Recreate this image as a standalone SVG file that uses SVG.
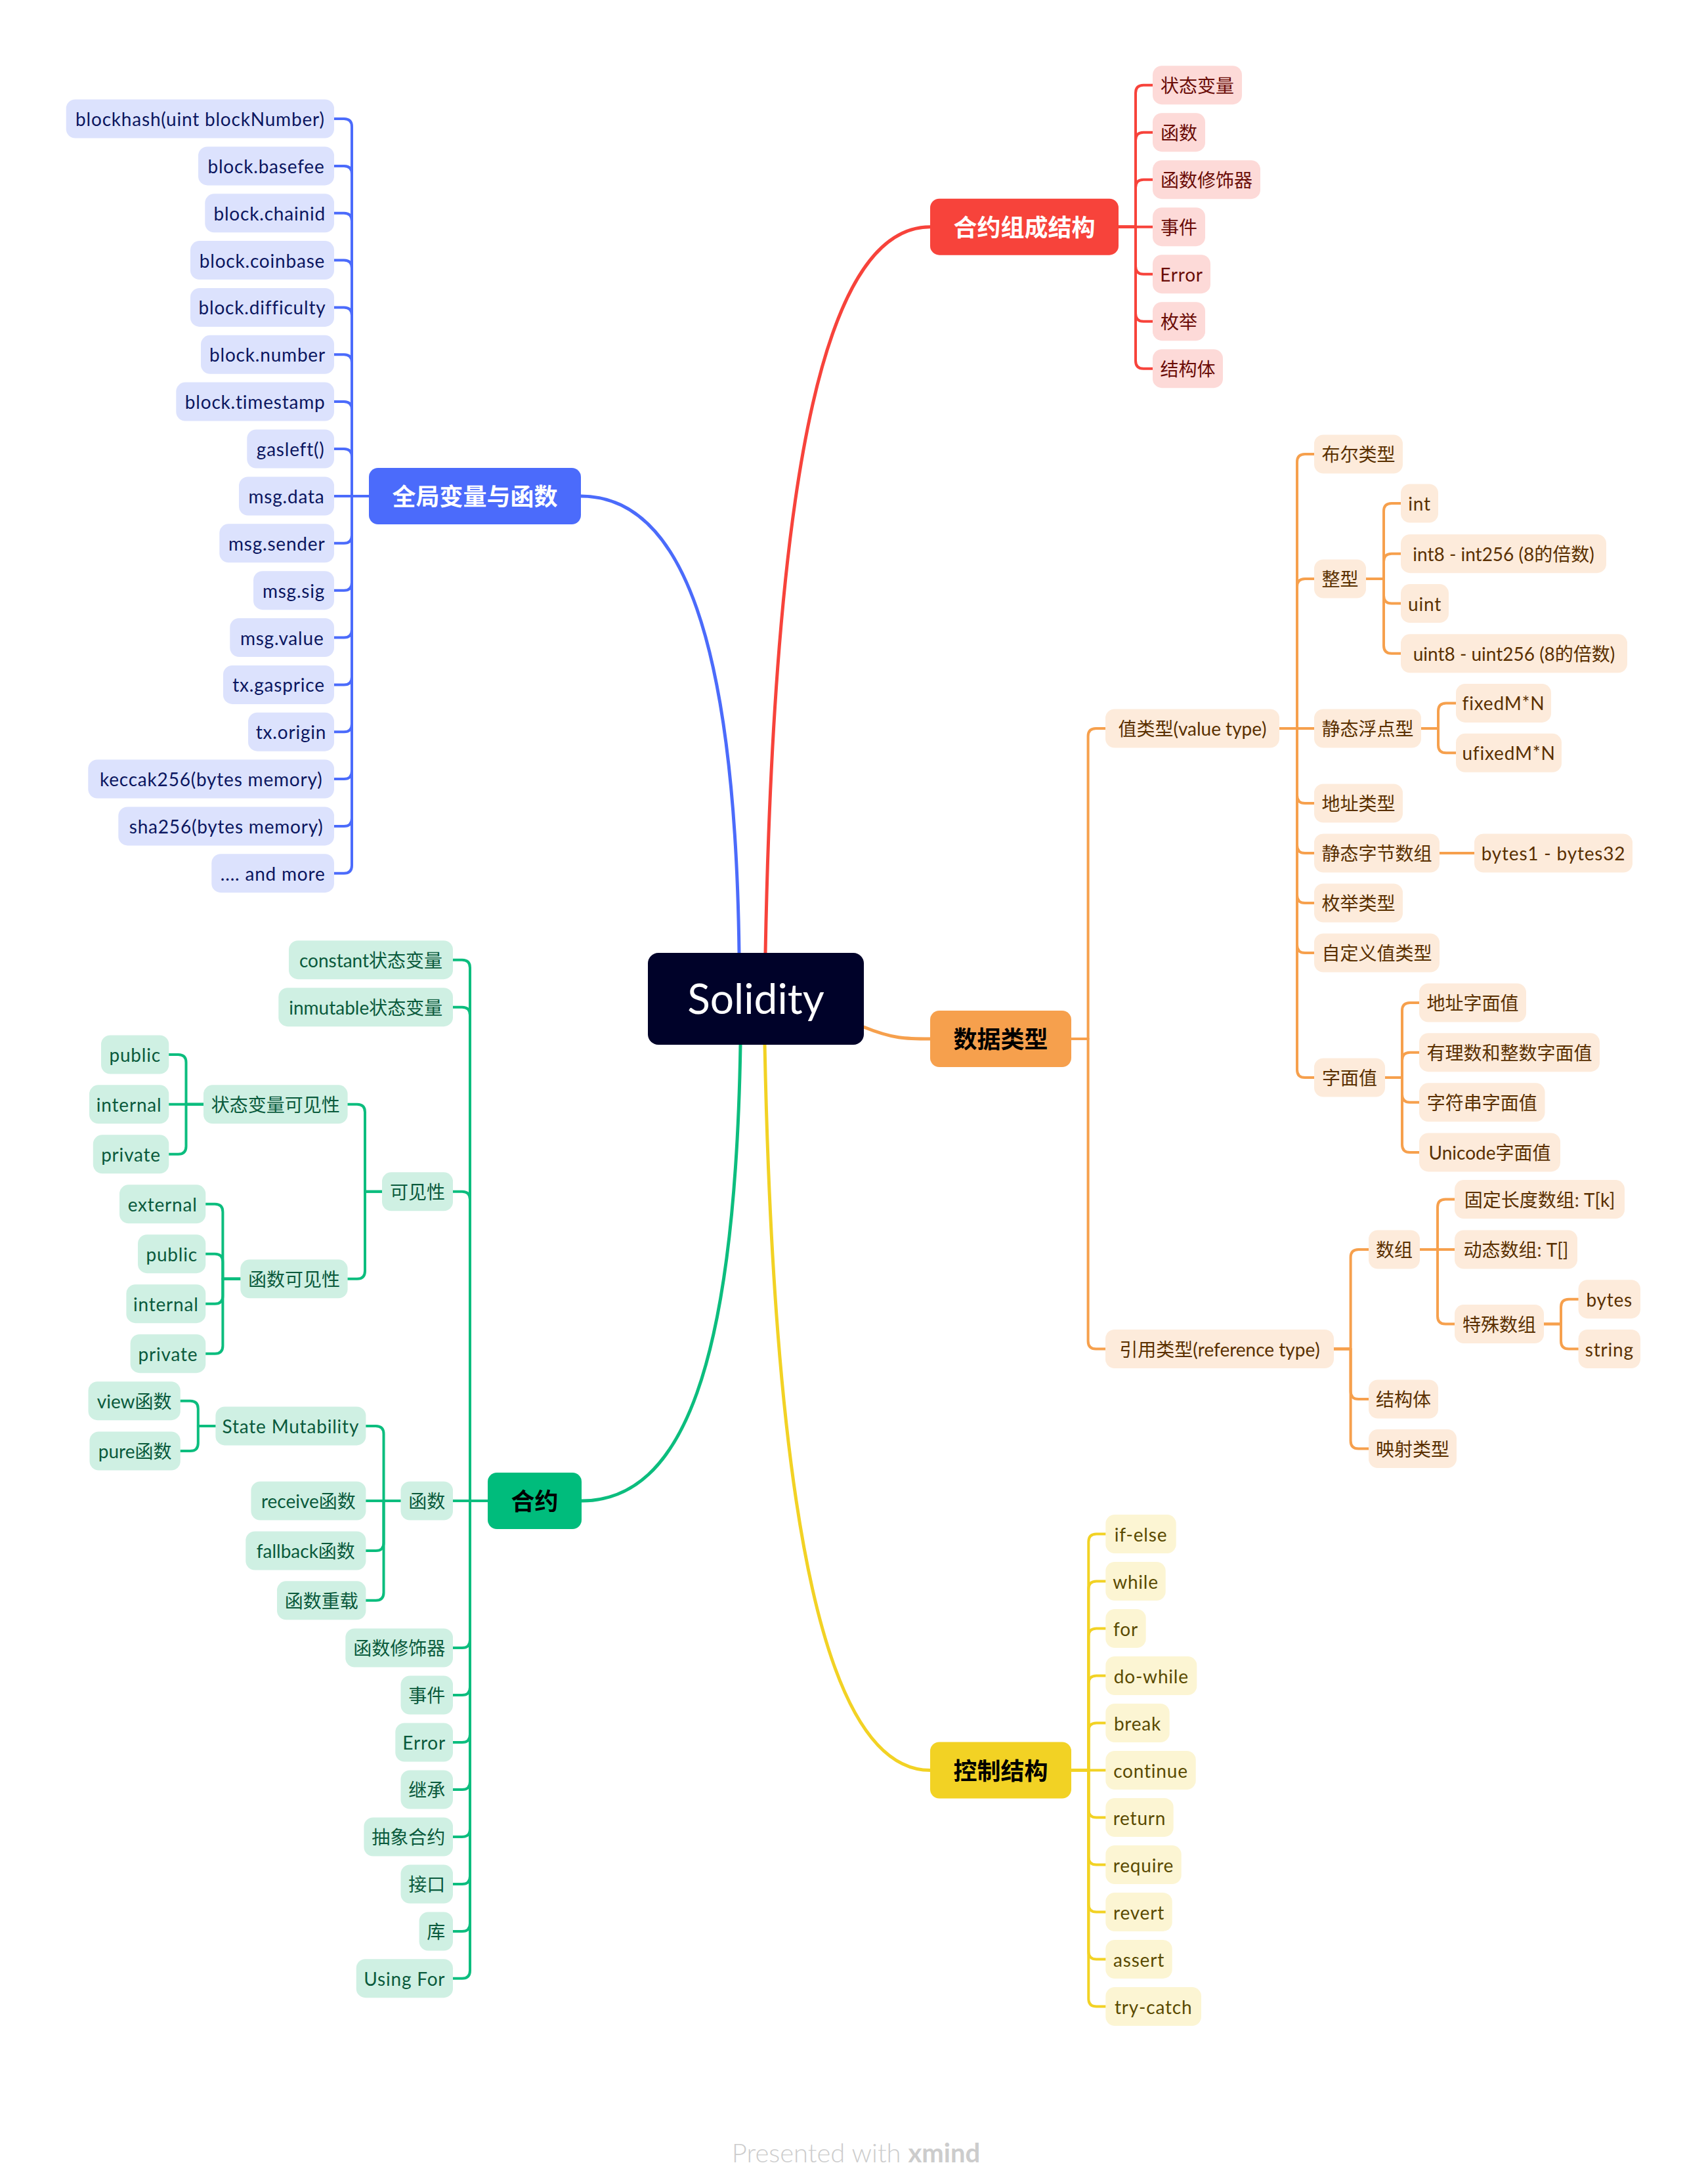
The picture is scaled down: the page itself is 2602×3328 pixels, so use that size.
<svg xmlns="http://www.w3.org/2000/svg" width="2602" height="3328" viewBox="0 0 2602 3328">
<style>
text{font-family:Lato,"Noto Sans CJK SC",sans-serif;font-size:28px;text-anchor:middle;dominant-baseline:central}
.c{fill:none;stroke-width:4;stroke-linecap:round;stroke-linejoin:round}
.m{stroke-width:5}
.cb{stroke:#4B6BFB}.cr{stroke:#F7433B}.co{stroke:#F6A04D}.cg{stroke:#0CBD7E}.cy{stroke:#F2D224}
.nb rect{fill:#DCE2FD}.nb text{fill:#0B1660;letter-spacing:0.8px}
.nr rect{fill:#FDDAD8}.nr text{fill:#6A0C07}
.no rect{fill:#FDEBDB}.no text{fill:#5A3000}
.ng rect{fill:#CFF0E3}.ng text{fill:#0A5A3C}
.ny rect{fill:#FCF5D3}.ny text{fill:#5A4A00;letter-spacing:0.8px}
.main text{font-size:36px;font-weight:bold}
text.l{letter-spacing:0.8px}
</style>
<rect width="2602" height="3328" fill="#ffffff"/>
<g id="connectors">
<path class="c m cb" d="M1126 1452C1120 980 1040 756 885 756"/>
<path class="c m cr" d="M1166 1452C1180 700 1260 345.7 1417 345.7"/>
<path class="c m cg" d="M1128 1592C1120 2080 1040 2287 886 2287"/>
<path class="c m cy" d="M1165 1592C1180 2330 1260 2697.5 1417 2697.5"/>
<path class="c m co" d="M1316 1565C1360 1583 1380 1583 1417 1583"/>
<g class="c cb">
<path d="M562 756H536V193Q536 181 524 181H509"/>
<path d="M562 756H536V264.9Q536 252.9 524 252.9H509"/>
<path d="M562 756H536V336.8Q536 324.8 524 324.8H509"/>
<path d="M562 756H536V408.6Q536 396.6 524 396.6H509"/>
<path d="M562 756H536V480.4Q536 468.4 524 468.4H509"/>
<path d="M562 756H536V552.3Q536 540.3 524 540.3H509"/>
<path d="M562 756H536V624.1Q536 612.1 524 612.1H509"/>
<path d="M562 756H536V696Q536 684 524 684H509"/>
<path d="M562 756H509"/>
<path d="M562 756H536V815.8Q536 827.8 524 827.8H509"/>
<path d="M562 756H536V887.7Q536 899.7 524 899.7H509"/>
<path d="M562 756H536V959.5Q536 971.5 524 971.5H509"/>
<path d="M562 756H536V1031.4Q536 1043.4 524 1043.4H509"/>
<path d="M562 756H536V1103.2Q536 1115.2 524 1115.2H509"/>
<path d="M562 756H536V1175Q536 1187 524 1187H509"/>
<path d="M562 756H536V1246.9Q536 1258.9 524 1258.9H509"/>
<path d="M562 756H536V1318.7Q536 1330.7 524 1330.7H509"/>
</g>
<g class="c cr">
<path d="M1704 345.7H1730V141.7Q1730 129.7 1742 129.7H1756"/>
<path d="M1704 345.7H1730V213.7Q1730 201.7 1742 201.7H1756"/>
<path d="M1704 345.7H1730V285.7Q1730 273.7 1742 273.7H1756"/>
<path d="M1704 345.7H1756"/>
<path d="M1704 345.7H1730V405.7Q1730 417.7 1742 417.7H1756"/>
<path d="M1704 345.7H1730V477.7Q1730 489.7 1742 489.7H1756"/>
<path d="M1704 345.7H1730V549.7Q1730 561.7 1742 561.7H1756"/>
</g>
<g class="c co">
<path d="M1632 1583H1657.6V1122Q1657.6 1110 1669.6 1110H1684"/>
<path d="M1632 1583H1657.6V2043.5Q1657.6 2055.5 1669.6 2055.5H1684"/>
<path d="M1949 1110H1976V704Q1976 692 1988 692H2002"/>
<path d="M1949 1110H1976V894Q1976 882 1988 882H2002"/>
<path d="M1949 1110H2002"/>
<path d="M1949 1110H1976V1212Q1976 1224 1988 1224H2002"/>
<path d="M1949 1110H1976V1288Q1976 1300 1988 1300H2002"/>
<path d="M1949 1110H1976V1364Q1976 1376 1988 1376H2002"/>
<path d="M1949 1110H1976V1440Q1976 1452 1988 1452H2002"/>
<path d="M1949 1110H1976V1630Q1976 1642 1988 1642H2002"/>
<path d="M2081 882H2108V779Q2108 767 2120 767H2134"/>
<path d="M2081 882H2108V855.7Q2108 843.7 2120 843.7H2134"/>
<path d="M2081 882H2108V907.6Q2108 919.6 2120 919.6H2134"/>
<path d="M2081 882H2108V983.8Q2108 995.8 2120 995.8H2134"/>
<path d="M2165 1110H2191V1083.4Q2191 1071.4 2203 1071.4H2218"/>
<path d="M2165 1110H2191V1135.3Q2191 1147.3 2203 1147.3H2218"/>
<path d="M2193 1300H2246"/>
<path d="M2110 1642H2136V1540Q2136 1528 2148 1528H2162"/>
<path d="M2110 1642H2136V1615.7Q2136 1603.7 2148 1603.7H2162"/>
<path d="M2110 1642H2136V1667.8Q2136 1679.8 2148 1679.8H2162"/>
<path d="M2110 1642H2136V1743.9Q2136 1755.9 2148 1755.9H2162"/>
<path d="M2032 2055.5H2057.6V1916Q2057.6 1904 2069.6 1904H2085"/>
<path d="M2032 2055.5H2057.6V2120Q2057.6 2132 2069.6 2132H2085"/>
<path d="M2032 2055.5H2057.6V2195.6Q2057.6 2207.6 2069.6 2207.6H2085"/>
<path d="M2163 1904H2190V1839.6Q2190 1827.6 2202 1827.6H2216"/>
<path d="M2163 1904H2216"/>
<path d="M2163 1904H2190V2005.6Q2190 2017.6 2202 2017.6H2216"/>
<path d="M2352 2017.6H2378V1991.7Q2378 1979.7 2390 1979.7H2404.5"/>
<path d="M2352 2017.6H2378V2043.5Q2378 2055.5 2390 2055.5H2404.5"/>
</g>
<g class="c cg">
<path d="M743 2287H716V1474.7Q716 1462.7 704 1462.7H690"/>
<path d="M743 2287H716V1546.7Q716 1534.7 704 1534.7H690"/>
<path d="M743 2287H716V1827.8Q716 1815.8 704 1815.8H690"/>
<path d="M743 2287H690"/>
<path d="M743 2287H716V2499Q716 2511 704 2511H690"/>
<path d="M743 2287H716V2571Q716 2583 704 2583H690"/>
<path d="M743 2287H716V2643Q716 2655 704 2655H690"/>
<path d="M743 2287H716V2715Q716 2727 704 2727H690"/>
<path d="M743 2287H716V2787Q716 2799 704 2799H690"/>
<path d="M743 2287H716V2859Q716 2871 704 2871H690"/>
<path d="M743 2287H716V2931Q716 2943 704 2943H690"/>
<path d="M743 2287H716V3002.7Q716 3014.7 704 3014.7H690"/>
<path d="M582 1815.8H556V1694.8Q556 1682.8 544 1682.8H529.6"/>
<path d="M582 1815.8H556V1936.8Q556 1948.8 544 1948.8H529.6"/>
<path d="M310 1682.8H283.5V1619Q283.5 1607 271.5 1607H257.3"/>
<path d="M310 1682.8H257.3"/>
<path d="M310 1682.8H283.5V1746.8Q283.5 1758.8 271.5 1758.8H257.3"/>
<path d="M366.3 1948.8H339.4V1846.8Q339.4 1834.8 327.4 1834.8H313.3"/>
<path d="M366.3 1948.8H339.4V1922.7Q339.4 1910.7 327.4 1910.7H313.3"/>
<path d="M366.3 1948.8H339.4V1974.7Q339.4 1986.7 327.4 1986.7H313.3"/>
<path d="M366.3 1948.8H339.4V2050.7Q339.4 2062.7 327.4 2062.7H313.3"/>
<path d="M610.5 2287H584.5V2184.9Q584.5 2172.9 572.5 2172.9H557.4"/>
<path d="M610.5 2287H557.4"/>
<path d="M610.5 2287H584.5V2351Q584.5 2363 572.5 2363H557.4"/>
<path d="M610.5 2287H584.5V2426.8Q584.5 2438.8 572.5 2438.8H557.4"/>
<path d="M328.4 2172.9H301.8V2146.7Q301.8 2134.7 289.8 2134.7H274.8"/>
<path d="M328.4 2172.9H301.8V2199Q301.8 2211 289.8 2211H274.8"/>
</g>
<g class="c cy">
<path d="M1632 2697.5H1658.3V2349.5Q1658.3 2337.5 1670.3 2337.5H1684.3"/>
<path d="M1632 2697.5H1658.3V2421.5Q1658.3 2409.5 1670.3 2409.5H1684.3"/>
<path d="M1632 2697.5H1658.3V2493.5Q1658.3 2481.5 1670.3 2481.5H1684.3"/>
<path d="M1632 2697.5H1658.3V2565.5Q1658.3 2553.5 1670.3 2553.5H1684.3"/>
<path d="M1632 2697.5H1658.3V2637.5Q1658.3 2625.5 1670.3 2625.5H1684.3"/>
<path d="M1632 2697.5H1684.3"/>
<path d="M1632 2697.5H1658.3V2757.5Q1658.3 2769.5 1670.3 2769.5H1684.3"/>
<path d="M1632 2697.5H1658.3V2829.5Q1658.3 2841.5 1670.3 2841.5H1684.3"/>
<path d="M1632 2697.5H1658.3V2901.5Q1658.3 2913.5 1670.3 2913.5H1684.3"/>
<path d="M1632 2697.5H1658.3V2973.5Q1658.3 2985.5 1670.3 2985.5H1684.3"/>
<path d="M1632 2697.5H1658.3V3045.5Q1658.3 3057.5 1670.3 3057.5H1684.3"/>
</g>
</g>

<g id="root"><rect x="987" y="1452" width="329" height="140" rx="16" fill="#000229"/><text x="1151.5" y="1520" style="font-size:64px;fill:#ffffff">Solidity</text></g>

<g id="m-global" class="main"><rect x="562" y="713" width="323" height="86" rx="14" fill="#4B6BFB"/><text x="723.5" y="756" fill="#ffffff">全局变量与函数</text></g>
<g id="m-struct" class="main"><rect x="1417" y="302.7" width="287" height="86" rx="14" fill="#F7433B"/><text x="1560.5" y="345.7" fill="#ffffff">合约组成结构</text></g>
<g id="m-types" class="main"><rect x="1417" y="1540" width="215" height="86" rx="14" fill="#F6A04D"/><text x="1524.5" y="1583" fill="#000000">数据类型</text></g>
<g id="m-contract" class="main"><rect x="743" y="2244" width="143" height="86" rx="14" fill="#00BC7C"/><text x="814.5" y="2287" fill="#000000">合约</text></g>
<g id="m-control" class="main"><rect x="1417" y="2654.5" width="215" height="86" rx="14" fill="#F2D224"/><text x="1524.5" y="2697.5" fill="#000000">控制结构</text></g>

<g id="b0" class="nb"><rect x="100.7" y="151.5" width="408.3" height="59" rx="14"/><text x="304.9" y="181">blockhash(uint blockNumber)</text></g>
<g id="b1" class="nb"><rect x="302" y="223.4" width="207" height="59" rx="14"/><text x="405.5" y="252.9">block.basefee</text></g>
<g id="b2" class="nb"><rect x="312.3" y="295.3" width="196.7" height="59" rx="14"/><text x="410.7" y="324.8">block.chainid</text></g>
<g id="b3" class="nb"><rect x="290" y="367.1" width="219" height="59" rx="14"/><text x="399.5" y="396.6">block.coinbase</text></g>
<g id="b4" class="nb"><rect x="290" y="438.9" width="219" height="59" rx="14"/><text x="399.5" y="468.4">block.difficulty</text></g>
<g id="b5" class="nb"><rect x="306" y="510.8" width="203" height="59" rx="14"/><text x="407.5" y="540.3">block.number</text></g>
<g id="b6" class="nb"><rect x="268.3" y="582.6" width="240.7" height="59" rx="14"/><text x="388.7" y="612.1">block.timestamp</text></g>
<g id="b7" class="nb"><rect x="376.3" y="654.5" width="132.7" height="59" rx="14"/><text x="442.7" y="684">gasleft()</text></g>
<g id="b8" class="nb"><rect x="364" y="726.5" width="145" height="59" rx="14"/><text x="436.5" y="756">msg.data</text></g>
<g id="b9" class="nb"><rect x="334.3" y="798.3" width="174.7" height="59" rx="14"/><text x="421.7" y="827.8">msg.sender</text></g>
<g id="b10" class="nb"><rect x="386" y="870.2" width="123" height="59" rx="14"/><text x="447.5" y="899.7">msg.sig</text></g>
<g id="b11" class="nb"><rect x="350.3" y="942" width="158.7" height="59" rx="14"/><text x="429.7" y="971.5">msg.value</text></g>
<g id="b12" class="nb"><rect x="340" y="1013.9" width="169" height="59" rx="14"/><text x="424.5" y="1043.4">tx.gasprice</text></g>
<g id="b13" class="nb"><rect x="378" y="1085.7" width="131" height="59" rx="14"/><text x="443.5" y="1115.2">tx.origin</text></g>
<g id="b14" class="nb"><rect x="134.3" y="1157.5" width="374.7" height="59" rx="14"/><text x="321.7" y="1187">keccak256(bytes memory)</text></g>
<g id="b15" class="nb"><rect x="180.3" y="1229.4" width="328.7" height="59" rx="14"/><text x="344.7" y="1258.9">sha256(bytes memory)</text></g>
<g id="b16" class="nb"><rect x="322.3" y="1301.2" width="186.7" height="59" rx="14"/><text x="415.7" y="1330.7">.... and more</text></g>

<g id="r0" class="nr"><rect x="1756" y="100.2" width="136" height="59" rx="14"/><text x="1824" y="129.7">状态变量</text></g>
<g id="r1" class="nr"><rect x="1756" y="172.2" width="80" height="59" rx="14"/><text x="1796" y="201.7">函数</text></g>
<g id="r2" class="nr"><rect x="1756" y="244.2" width="164" height="59" rx="14"/><text x="1838" y="273.7">函数修饰器</text></g>
<g id="r3" class="nr"><rect x="1756" y="316.2" width="80" height="59" rx="14"/><text x="1796" y="345.7">事件</text></g>
<g id="r4" class="nr"><rect x="1756" y="388.2" width="88" height="59" rx="14"/><text class="l" x="1800" y="417.7">Error</text></g>
<g id="r5" class="nr"><rect x="1756" y="460.2" width="80" height="59" rx="14"/><text x="1796" y="489.7">枚举</text></g>
<g id="r6" class="nr"><rect x="1756" y="532.2" width="107" height="59" rx="14"/><text x="1809.5" y="561.7">结构体</text></g>

<g id="o-value" class="no"><rect x="1684" y="1080.5" width="265" height="59" rx="14"/><text x="1816.5" y="1110">值类型(value type)</text></g>
<g id="o-ref" class="no"><rect x="1684" y="2026" width="348" height="59" rx="14"/><text x="1858" y="2055.5">引用类型(reference type)</text></g>
<g id="o-bool" class="no"><rect x="2002" y="662.5" width="135" height="59" rx="14"/><text x="2069.5" y="692">布尔类型</text></g>
<g id="o-int" class="no"><rect x="2002" y="852.5" width="79" height="59" rx="14"/><text x="2041.5" y="882">整型</text></g>
<g id="o-int1" class="no"><rect x="2134" y="737.5" width="57" height="59" rx="14"/><text class="l" x="2162.5" y="767">int</text></g>
<g id="o-int2" class="no"><rect x="2134" y="814.2" width="313" height="59" rx="14"/><text x="2290.5" y="843.7">int8 - int256 (8的倍数)</text></g>
<g id="o-int3" class="no"><rect x="2134" y="890.1" width="73" height="59" rx="14"/><text class="l" x="2170.5" y="919.6">uint</text></g>
<g id="o-int4" class="no"><rect x="2134" y="966.3" width="345" height="59" rx="14"/><text x="2306.5" y="995.8">uint8 - uint256 (8的倍数)</text></g>
<g id="o-fixed" class="no"><rect x="2002" y="1080.5" width="163" height="59" rx="14"/><text x="2083.5" y="1110">静态浮点型</text></g>
<g id="o-fixed1" class="no"><rect x="2218" y="1041.9" width="145" height="59" rx="14"/><text class="l" x="2290.5" y="1071.4">fixedM*N</text></g>
<g id="o-fixed2" class="no"><rect x="2218" y="1117.8" width="161" height="59" rx="14"/><text class="l" x="2298.5" y="1147.3">ufixedM*N</text></g>
<g id="o-addr" class="no"><rect x="2002" y="1194.5" width="135" height="59" rx="14"/><text x="2069.5" y="1224">地址类型</text></g>
<g id="o-bytes" class="no"><rect x="2002" y="1270.5" width="191" height="59" rx="14"/><text x="2097.5" y="1300">静态字节数组</text></g>
<g id="o-bytes1" class="no"><rect x="2246" y="1270.5" width="241" height="59" rx="14"/><text class="l" x="2366.5" y="1300">bytes1 - bytes32</text></g>
<g id="o-enum" class="no"><rect x="2002" y="1346.5" width="135" height="59" rx="14"/><text x="2069.5" y="1376">枚举类型</text></g>
<g id="o-udvt" class="no"><rect x="2002" y="1422.5" width="191" height="59" rx="14"/><text x="2097.5" y="1452">自定义值类型</text></g>
<g id="o-lit" class="no"><rect x="2002" y="1612.5" width="108" height="59" rx="14"/><text x="2056" y="1642">字面值</text></g>
<g id="o-lit1" class="no"><rect x="2162" y="1498.5" width="163" height="59" rx="14"/><text x="2243.5" y="1528">地址字面值</text></g>
<g id="o-lit2" class="no"><rect x="2162" y="1574.2" width="275" height="59" rx="14"/><text x="2299.5" y="1603.7">有理数和整数字面值</text></g>
<g id="o-lit3" class="no"><rect x="2162" y="1650.3" width="191.5" height="59" rx="14"/><text x="2257.75" y="1679.8">字符串字面值</text></g>
<g id="o-lit4" class="no"><rect x="2162" y="1726.4" width="215" height="59" rx="14"/><text x="2269.5" y="1755.9">Unicode字面值</text></g>
<g id="o-arr" class="no"><rect x="2085" y="1874.5" width="78" height="59" rx="14"/><text x="2124" y="1904">数组</text></g>
<g id="o-arr1" class="no"><rect x="2216" y="1798.1" width="259" height="59" rx="14"/><text x="2345.5" y="1827.6">固定长度数组: T[k]</text></g>
<g id="o-arr2" class="no"><rect x="2216" y="1874.5" width="187" height="59" rx="14"/><text x="2309.5" y="1904">动态数组: T[]</text></g>
<g id="o-arr3" class="no"><rect x="2216" y="1988.1" width="136" height="59" rx="14"/><text x="2284" y="2017.6">特殊数组</text></g>
<g id="o-sp1" class="no"><rect x="2404.5" y="1950.2" width="94.5" height="59" rx="14"/><text class="l" x="2451.75" y="1979.7">bytes</text></g>
<g id="o-sp2" class="no"><rect x="2404.5" y="2026" width="94.5" height="59" rx="14"/><text class="l" x="2451.75" y="2055.5">string</text></g>
<g id="o-struct" class="no"><rect x="2085" y="2102.5" width="106" height="59" rx="14"/><text x="2138" y="2132">结构体</text></g>
<g id="o-map" class="no"><rect x="2085" y="2178.1" width="134" height="59" rx="14"/><text x="2152" y="2207.6">映射类型</text></g>

<g id="g-const" class="ng"><rect x="440" y="1433.2" width="250" height="59" rx="14"/><text x="565" y="1462.7">constant状态变量</text></g>
<g id="g-immut" class="ng"><rect x="424.3" y="1505.2" width="265.7" height="59" rx="14"/><text x="557.2" y="1534.7">inmutable状态变量</text></g>
<g id="g-vis" class="ng"><rect x="582" y="1786.3" width="108" height="59" rx="14"/><text x="636" y="1815.8">可见性</text></g>
<g id="g-svis" class="ng"><rect x="310" y="1653.3" width="219.6" height="59" rx="14"/><text x="419.8" y="1682.8">状态变量可见性</text></g>
<g id="g-sv1" class="ng"><rect x="154" y="1577.5" width="103.3" height="59" rx="14"/><text class="l" x="205.65" y="1607">public</text></g>
<g id="g-sv2" class="ng"><rect x="136" y="1653.3" width="121.3" height="59" rx="14"/><text class="l" x="196.65" y="1682.8">internal</text></g>
<g id="g-sv3" class="ng"><rect x="141.8" y="1729.3" width="115.5" height="59" rx="14"/><text class="l" x="199.55" y="1758.8">private</text></g>
<g id="g-fvis" class="ng"><rect x="366.3" y="1919.3" width="163.3" height="59" rx="14"/><text x="447.95" y="1948.8">函数可见性</text></g>
<g id="g-fv1" class="ng"><rect x="182" y="1805.3" width="131.3" height="59" rx="14"/><text class="l" x="247.65" y="1834.8">external</text></g>
<g id="g-fv2" class="ng"><rect x="210" y="1881.2" width="103.3" height="59" rx="14"/><text class="l" x="261.65" y="1910.7">public</text></g>
<g id="g-fv3" class="ng"><rect x="192.4" y="1957.2" width="120.9" height="59" rx="14"/><text class="l" x="252.85" y="1986.7">internal</text></g>
<g id="g-fv4" class="ng"><rect x="198.6" y="2033.2" width="114.7" height="59" rx="14"/><text class="l" x="255.95" y="2062.7">private</text></g>
<g id="g-func" class="ng"><rect x="610.5" y="2257.5" width="79.5" height="59" rx="14"/><text x="650.25" y="2287">函数</text></g>
<g id="g-sm" class="ng"><rect x="328.4" y="2143.4" width="229" height="59" rx="14"/><text class="l" x="442.9" y="2172.9">State Mutability</text></g>
<g id="g-view" class="ng"><rect x="134.5" y="2105.2" width="140.3" height="59" rx="14"/><text x="204.65" y="2134.7">view函数</text></g>
<g id="g-pure" class="ng"><rect x="136.5" y="2181.5" width="138.3" height="59" rx="14"/><text x="205.65" y="2211">pure函数</text></g>
<g id="g-recv" class="ng"><rect x="382.4" y="2257.5" width="175" height="59" rx="14"/><text x="469.9" y="2287">receive函数</text></g>
<g id="g-fall" class="ng"><rect x="374.3" y="2333.5" width="183.1" height="59" rx="14"/><text x="465.85" y="2363">fallback函数</text></g>
<g id="g-over" class="ng"><rect x="422" y="2409.3" width="135.4" height="59" rx="14"/><text x="489.7" y="2438.8">函数重载</text></g>
<g id="g-mod" class="ng"><rect x="526.3" y="2481.5" width="163.7" height="59" rx="14"/><text x="608.2" y="2511">函数修饰器</text></g>
<g id="g-event" class="ng"><rect x="610.5" y="2553.5" width="79.5" height="59" rx="14"/><text x="650.25" y="2583">事件</text></g>
<g id="g-error" class="ng"><rect x="602.3" y="2625.5" width="87.7" height="59" rx="14"/><text class="l" x="646.2" y="2655">Error</text></g>
<g id="g-inh" class="ng"><rect x="610.5" y="2697.5" width="79.5" height="59" rx="14"/><text x="650.25" y="2727">继承</text></g>
<g id="g-abs" class="ng"><rect x="554.4" y="2769.5" width="135.6" height="59" rx="14"/><text x="622.2" y="2799">抽象合约</text></g>
<g id="g-iface" class="ng"><rect x="610.5" y="2841.5" width="79.5" height="59" rx="14"/><text x="650.25" y="2871">接口</text></g>
<g id="g-lib" class="ng"><rect x="638.6" y="2913.5" width="51.4" height="59" rx="14"/><text x="664.3" y="2943">库</text></g>
<g id="g-using" class="ng"><rect x="542.7" y="2985.2" width="147.3" height="59" rx="14"/><text class="l" x="616.35" y="3014.7">Using For</text></g>

<g id="y0" class="ny"><rect x="1684.3" y="2308" width="107.4" height="59" rx="14"/><text x="1738" y="2337.5">if-else</text></g>
<g id="y1" class="ny"><rect x="1684.3" y="2380" width="91.4" height="59" rx="14"/><text x="1730" y="2409.5">while</text></g>
<g id="y2" class="ny"><rect x="1684.3" y="2452" width="61.4" height="59" rx="14"/><text x="1715" y="2481.5">for</text></g>
<g id="y3" class="ny"><rect x="1684.3" y="2524" width="139" height="59" rx="14"/><text x="1753.8" y="2553.5">do-while</text></g>
<g id="y4" class="ny"><rect x="1684.3" y="2596" width="97.4" height="59" rx="14"/><text x="1733" y="2625.5">break</text></g>
<g id="y5" class="ny"><rect x="1684.3" y="2668" width="137.4" height="59" rx="14"/><text x="1753" y="2697.5">continue</text></g>
<g id="y6" class="ny"><rect x="1684.3" y="2740" width="103.4" height="59" rx="14"/><text x="1736" y="2769.5">return</text></g>
<g id="y7" class="ny"><rect x="1684.3" y="2812" width="115.4" height="59" rx="14"/><text x="1742" y="2841.5">require</text></g>
<g id="y8" class="ny"><rect x="1684.3" y="2884" width="101.4" height="59" rx="14"/><text x="1735" y="2913.5">revert</text></g>
<g id="y9" class="ny"><rect x="1684.3" y="2956" width="101.4" height="59" rx="14"/><text x="1735" y="2985.5">assert</text></g>
<g id="y10" class="ny"><rect x="1684.3" y="3028" width="145.7" height="59" rx="14"/><text x="1757.15" y="3057.5">try-catch</text></g>

<text x="1304" y="3280" style="font-size:40px;fill:#cccccc;font-weight:300">Presented with <tspan style="font-weight:bold">xmind</tspan></text>
</svg>
